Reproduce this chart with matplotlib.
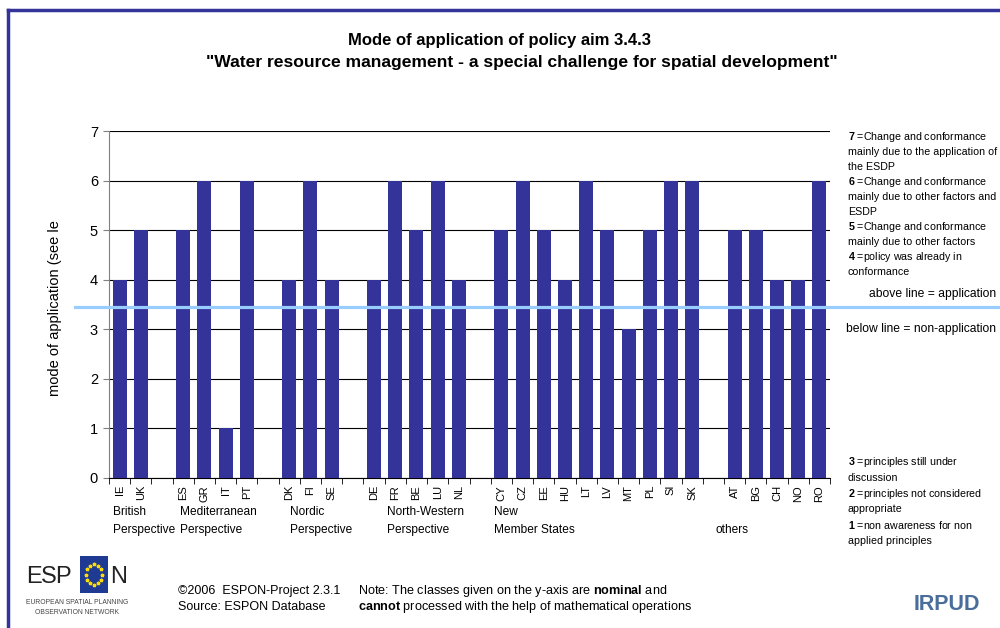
import matplotlib
matplotlib.use("Agg")
import matplotlib.pyplot as plt
import matplotlib.transforms as mtransforms
from matplotlib.patches import Rectangle
from matplotlib.lines import Line2D
import numpy as np

plt.rcParams['font.family'] = ['Liberation Sans', 'DejaVu Sans']
plt.rcParams['mathtext.fontset'] = 'custom'
plt.rcParams['mathtext.rm'] = 'Liberation Sans'
plt.rcParams['mathtext.bf'] = 'Liberation Sans:bold'

# data (empty string = gap between country groups)
countries = ["IE", "UK", "",
             "ES", "GR", "IT", "PT", "",
             "DK", "FI", "SE", "",
             "DE", "FR", "BE", "LU", "NL", "",
             "CY", "CZ", "EE", "HU", "LT", "LV", "MT", "PL", "SI", "SK", "",
             "AT", "BG", "CH", "NO", "RO"]
modes = [4, 5, None,
         5, 6, 1, 6, None,
         4, 6, 4, None,
         4, 6, 5, 6, 4, None,
         5, 6, 5, 4, 6, 5, 3, 5, 6, 6, None,
         5, 5, 4, 4, 6]
groups = ["British\nPerspective", "Mediterranean\nPerspective", "Nordic\nPerspective",
          "North-Western\nPerspective", "New\nMember States", "\nothers"]
group_x = [-0.3, 2.85, 8.05, 12.6, 17.65, 28.1]
threshold = 3.45

legend_top = ["$\\bf{7}$ =Change and conformance", "mainly due to the application of", "the ESDP",
              "$\\bf{6}$ =Change and conformance", "mainly due to other factors and", "ESDP",
              "$\\bf{5}$ =Change and conformance", "mainly due to other factors",
              "$\\bf{4}$ =policy was already in", "conformance"]
legend_bottom = ["$\\bf{3}$ =principles still under", "discussion",
                 "$\\bf{2}$ =principles not considered", "appropriate",
                 "$\\bf{1}$ =non awareness for non", "applied principles"]

navy = "#333399"

fig = plt.figure(figsize=(10, 6.28), dpi=100)
ax = fig.add_axes([0.109, 0.2389, 0.721, 0.5525])

x = np.arange(len(countries))
vals = [v if v is not None else 0 for v in modes]
ax.bar(x, vals, width=0.66, color=navy, zorder=3)

ax.set_xlim(-0.5, len(countries) - 0.5)
ax.set_ylim(0, 7)
ax.set_yticks(range(8))
ax.tick_params(axis='y', labelsize=10.5, length=4, color='#808080', pad=4)
ax.yaxis.grid(True, color='black', linewidth=0.8, zorder=0)
ax.set_xticks(x)
ax.set_xticklabels(countries, rotation=90, fontsize=8)
ax.tick_params(axis='x', which='major', length=0, pad=5)
ax.set_xticks(np.arange(-0.5, len(countries)), minor=True)
ax.tick_params(axis='x', which='minor', length=4, color='black')
for s in ['top', 'right']:
    ax.spines[s].set_visible(False)
ax.spines['left'].set_color('#808080')
ax.spines['bottom'].set_color('black')

# y label (cut off in the original)
fig.text(0.055, 1 - 396 / 628, "mode of application (see le", rotation=90,
         fontsize=10.5, ha='center', va='bottom')

# threshold line between application / non-application
tr = mtransforms.blended_transform_factory(ax.transAxes, ax.transData)
ax.add_line(Line2D([-0.047, 1.236], [threshold, threshold], transform=tr,
                   color='#99ccff', linewidth=2.3, clip_on=False, zorder=5))

# group labels
trg = mtransforms.blended_transform_factory(ax.transData, ax.transAxes)
for gx, g in zip(group_x, groups):
    ax.text(gx, -0.08, g, transform=trg, fontsize=8.6, ha='left', va='top',
            linespacing=1.7)

# title
fig.text(0.5, 0.936, "Mode of application of policy aim 3.4.3", ha='center', va='center',
         fontsize=12, fontweight='bold')
fig.text(0.5215, 0.901, "\"Water resource management - a special challenge for spatial development\"",
         ha='center', va='center', fontsize=12.6, fontweight='bold')

# right legend
for i, t in enumerate(legend_top):
    fig.text(0.848, 1 - (137 + i * 15.0) / 628, t, fontsize=7.7, va='center', ha='left')
for i, t in enumerate(legend_bottom):
    fig.text(0.848, 1 - (462 + i * 15.8) / 628, t, fontsize=7.7, va='center', ha='left')
fig.text(0.996, 1 - 294 / 628, "above line = application", fontsize=8.7, ha='right', va='center')
fig.text(0.996, 1 - 329 / 628, "below line = non-application", fontsize=8.7, ha='right', va='center')

# footer
fig.text(0.178, 1 - 591 / 628, "\u00a92006  ESPON-Project 2.3.1", fontsize=9, va='center')
fig.text(0.178, 1 - 607 / 628, "Source: ESPON Database", fontsize=9, va='center')
fig.text(0.358, 1 - 591 / 628, "Note: The classes given on the y-axis are $\\bf{nominal}$ and",
         fontsize=9.1, va='center')
fig.text(0.358, 1 - 607 / 628, "$\\bf{cannot}$ processed with the help of mathematical operations",
         fontsize=9.1, va='center')

# frame
fig.add_artist(Line2D([0.008, 1.0], [1 - 10 / 628, 1 - 10 / 628], color=navy, linewidth=2.5))
fig.add_artist(Line2D([0.008, 0.008], [1 - 10 / 628, 0], color=navy, linewidth=2.5))

# ESPON logo
for lx, letter in zip([0.0335, 0.0485, 0.0625, 0.1185], "ESPN"):
    fig.text(lx, 1 - 577 / 628, letter, fontsize=17, va='center', ha='center', color='#222222')
lax = fig.add_axes([0.080, 1 - 593 / 628, 0.028, 37 / 628])
lax.set_xlim(-1, 1)
lax.set_ylim(-1, 1)
lax.add_patch(Rectangle((-1, -1), 2, 2, color='#1f3a93'))
ang = np.linspace(0, 2 * np.pi, 12, endpoint=False)
lax.plot(0.55 * np.cos(ang), 0.55 * np.sin(ang), '*', color='#ffdd00', markersize=2.5)
lax.axis('off')
fig.text(0.077, 1 - 603 / 628, "EUROPEAN SPATIAL PLANNING", fontsize=4.9, ha='center', va='center',
         color='#444444')
fig.text(0.077, 1 - 612 / 628, "OBSERVATION NETWORK", fontsize=4.9, ha='center', va='center',
         color='#444444')

# IRPUD logo
fig.text(0.947, 1 - 604 / 628, "IRPUD", fontsize=15.5, fontweight='bold', ha='center', va='center',
         color='#4a6d9c')

fig.savefig("out.png", dpi=100)
